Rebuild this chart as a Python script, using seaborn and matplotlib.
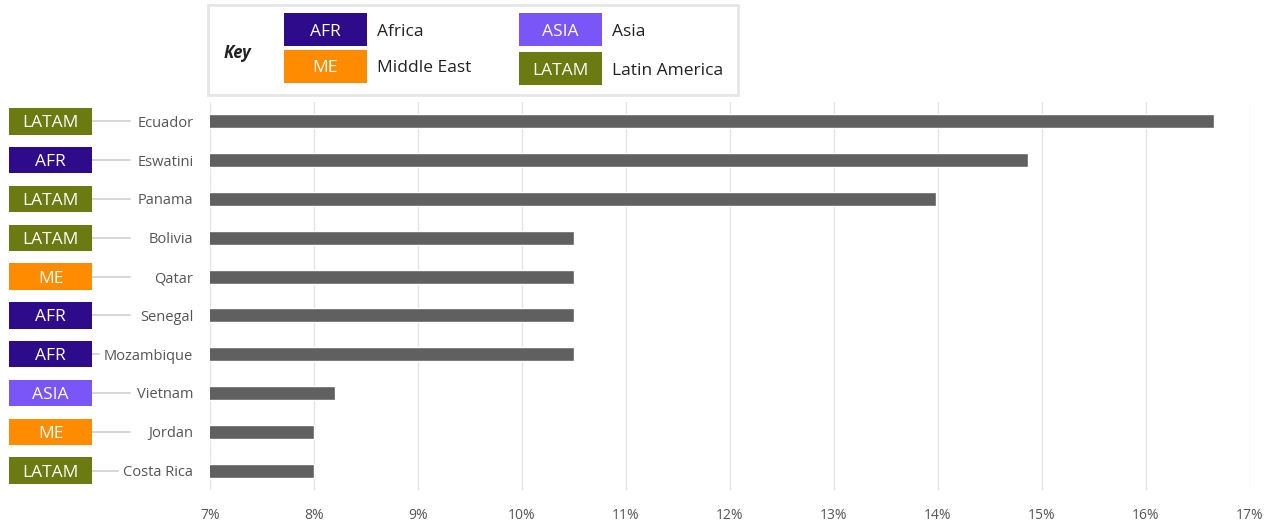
import matplotlib
matplotlib.use("Agg")
import matplotlib.pyplot as plt
import matplotlib.patches as mpatches
from matplotlib.transforms import blended_transform_factory
import seaborn as sns
import pandas as pd

countries = ["Ecuador", "Eswatini", "Panama", "Bolivia", "Qatar", "Senegal",
             "Mozambique", "Vietnam", "Jordan", "Costa Rica"]
values = [16.65, 14.87, 13.98, 10.5, 10.5, 10.5, 10.5, 8.2, 8.0, 8.0]
regions = ["LATAM", "AFR", "LATAM", "LATAM", "ME", "AFR", "AFR", "ASIA", "ME", "LATAM"]
xticks = [7, 8, 9, 10, 11, 12, 13, 14, 15, 16, 17]

region_codes = ["AFR", "ME", "ASIA", "LATAM"]
region_names = ["Africa", "Middle East", "Asia", "Latin America"]
region_colors = {"AFR": "#2E0B8A", "ME": "#FF8C00", "ASIA": "#7A55F7", "LATAM": "#6C7A12"}

sns.set_theme(style="white")
plt.rcParams["font.family"] = ["Open Sans", "DejaVu Sans"]

df = pd.DataFrame({"country": countries, "value": values, "region": regions})

fig = plt.figure(figsize=(12.77, 5.23), dpi=100)
ax = fig.add_axes([210 / 1277, 1 - 490 / 523, 1040 / 1277, 388 / 523])

sns.barplot(data=df, y="country", x="value", orient="h", color="#606060",
            saturation=1, width=0.36, ax=ax, zorder=3)

ax.set_xlim(7, 17)
ax.set_xticks(xticks)
ax.set_xticklabels([f"{t}%" for t in xticks], color="#555555", fontsize=10)
ax.set_ylim(len(countries) - 0.5, -0.5)
ax.grid(axis="x", color="#e4e4e4", linewidth=1, zorder=0)
ax.set_axisbelow(True)
for s in ax.spines.values():
    s.set_visible(False)
ax.set_xlabel("")
ax.set_ylabel("")
ax.tick_params(axis="x", length=0, pad=13)
ax.tick_params(axis="y", length=0, pad=12)
for lbl in ax.get_yticklabels():
    lbl.set_color("#555555")
    lbl.set_fontsize(10.5)

# region tags on the left
trans = blended_transform_factory(fig.transFigure, ax.transData)
box_x0 = 9 / 1277
box_w = 83 / 1277
fig.canvas.draw()
renderer = fig.canvas.get_renderer()
ylabels = ax.get_yticklabels()
for i, reg in enumerate(regions):
    rect = mpatches.Rectangle((box_x0, i - 0.34), box_w, 0.68, transform=trans,
                              facecolor=region_colors[reg], edgecolor="none",
                              clip_on=False, zorder=5)
    fig.add_artist(rect)
    fig.text(box_x0 + box_w / 2, i + 0.155, reg, transform=trans, ha="center",
             va="baseline", color="white", fontsize=12.5, zorder=6)
    # connector line
    bb = ylabels[i].get_window_extent(renderer)
    end_px = min(130, bb.x0 - 5)
    fig.add_artist(plt.Line2D([92 / 1277, end_px / 1277], [i, i], transform=trans,
                              color="#d0d0d0", linewidth=1.2))

# key / legend box
fig.add_artist(mpatches.Rectangle((208 / 1277, 1 - 95 / 523), 530 / 1277, 90 / 523,
                                  transform=fig.transFigure, facecolor="white",
                                  edgecolor="#e6e6e6", linewidth=2))
fig.text(237 / 1277, 1 - 53 / 523, "Key", fontsize=12, fontweight="bold",
         fontstyle="italic", color="#222222", ha="center", va="center")
key_pos = {"AFR": (284, 13), "ME": (284, 50), "ASIA": (519, 13), "LATAM": (519, 52)}
for code, name in zip(region_codes, region_names):
    kx, ky = key_pos[code]
    fig.add_artist(mpatches.Rectangle((kx / 1277, 1 - (ky + 33) / 523), 83 / 1277, 33 / 523,
                                      transform=fig.transFigure,
                                      facecolor=region_colors[code], edgecolor="none"))
    fig.text((kx + 41.5) / 1277, 1 - (ky + 22.5) / 523, code, color="white",
             fontsize=12.5, ha="center", va="baseline")
    fig.text((kx + 93) / 1277, 1 - (ky + 22.5) / 523, name, color="#222222",
             fontsize=12.5, ha="left", va="baseline")

fig.savefig("out.png", dpi=100, facecolor="white")
